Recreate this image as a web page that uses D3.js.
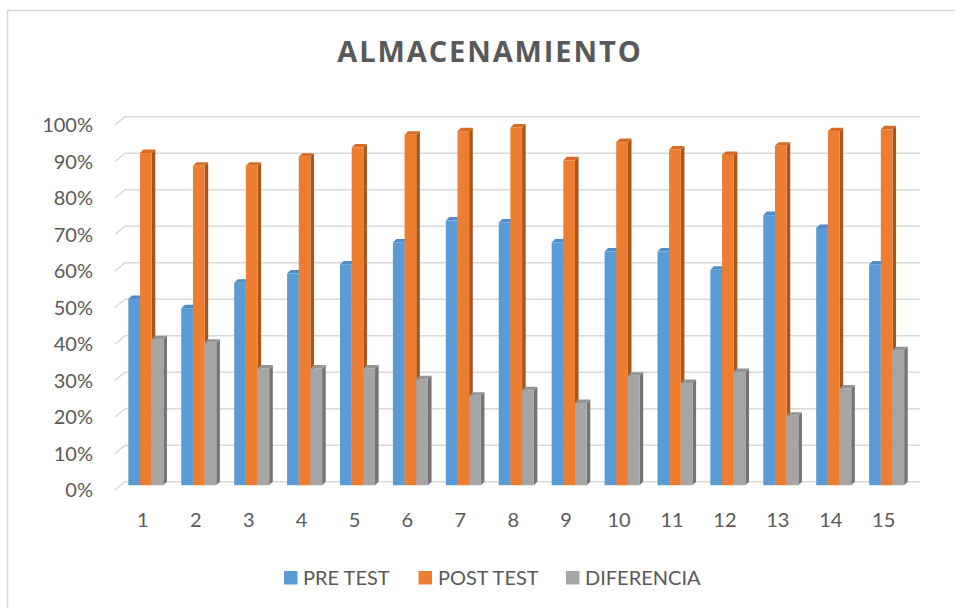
<!DOCTYPE html>
<html>
<head>
<meta charset="utf-8">
<script src="https://cdn.jsdelivr.net/npm/d3@7"></script>
<style>
  html, body { margin: 0; padding: 0; background: #fff; }
  svg { display: block; }
  text { font-family: Lato, "Noto Sans", sans-serif; fill: #595959; }
</style>
</head>
<body>
<svg id="chart" width="955" height="608"></svg>
<script>
const categories = ["1","2","3","4","5","6","7","8","9","10","11","12","13","14","15"];
const seriesNames = ["PRE TEST", "POST TEST", "DIFERENCIA"];
const preTest    = [0.51, 0.485, 0.555, 0.58, 0.605, 0.665, 0.725, 0.72, 0.665, 0.64, 0.64, 0.59, 0.74, 0.705, 0.605];
const postTest   = [0.91, 0.875, 0.875, 0.90, 0.925, 0.96, 0.97, 0.98, 0.89, 0.94, 0.92, 0.905, 0.93, 0.97, 0.975];
const diferencia = [0.40, 0.39, 0.32, 0.32, 0.32, 0.29, 0.245, 0.26, 0.225, 0.30, 0.28, 0.31, 0.19, 0.265, 0.37];
const yTicks = [0, 0.1, 0.2, 0.3, 0.4, 0.5, 0.6, 0.7, 0.8, 0.9, 1.0];
const title = "ALMACENAMIENTO";

const series = [preTest, postTest, diferencia];
const colors = [
  {front: "#5B9BD5", top: "#4F8BC4", side: "#41719C"},
  {front: "#ED7D31", top: "#D66C24", side: "#A9561C"},
  {front: "#A5A5A5", top: "#959595", side: "#747474"}
];

const svg = d3.select("#chart");

// chart border
svg.append("rect").attr("x", 7.5).attr("y", 10.5).attr("width", 960).attr("height", 610)
  .attr("fill", "none").attr("stroke", "#d9d9d9").attr("stroke-width", 1.5);

// 3D offsets
const depthX = 10, depthY = 8.3;     // front plane -> back wall
const barDX = 3.6, barDY = 3.5;      // bar depth

const yBack = d3.scaleLinear().domain([0, 1]).range([481.7, 116.7]);
const x0 = d3.scaleBand().domain(categories).range([119.4, 913.1]).paddingInner(0.338).paddingOuter(0.169);
const x1 = d3.scaleBand().domain(d3.range(3)).range([0, x0.bandwidth()]);
const xLabel = d3.scaleBand().domain(categories).range([116.4, 910.1]);

// gridlines (back wall + floor diagonal)
const grid = svg.append("g");
yTicks.forEach(t => {
  const yb = yBack(t);
  grid.append("path")
    .attr("d", `M${115},${yb + depthY} L${115 + depthX},${yb} L${920},${yb}`)
    .attr("fill", "none").attr("stroke", "#d9d9d9").attr("stroke-width", 1.6);
});

// y labels
svg.append("g").selectAll("text").data(yTicks).join("text")
  .attr("x", 93).attr("y", d => yBack(d) + depthY)
  .attr("dy", "0.36em").attr("text-anchor", "end")
  .style("font-size", "20px")
  .text(d => d3.format(".0%")(d));

// x labels
svg.append("g").selectAll("text").data(categories).join("text")
  .attr("x", d => xLabel(d) + xLabel.bandwidth() / 2)
  .attr("y", 527).attr("text-anchor", "middle")
  .style("font-size", "20px")
  .text(d => d);

// bars
const baseFront = yBack(0) + barDY;
const bars = svg.append("g");
categories.forEach((c, i) => {
  series.forEach((s, k) => {
    const v = s[i];
    const xa = x0(c) + x1(k);
    const xb = xa + x1.bandwidth();
    const yt = yBack(v) + barDY;
    const col = colors[k];
    const g = bars.append("g");
    // side face
    g.append("path")
      .attr("d", `M${xb},${yt} L${xb + barDX},${yt - barDY} L${xb + barDX},${baseFront - barDY} L${xb},${baseFront} Z`)
      .attr("fill", col.side);
    // top face
    g.append("path")
      .attr("d", `M${xa},${yt} L${xa + barDX},${yt - barDY} L${xb + barDX},${yt - barDY} L${xb},${yt} Z`)
      .attr("fill", col.top);
    // front face
    g.append("rect")
      .attr("x", xa).attr("y", yt).attr("width", x1.bandwidth()).attr("height", baseFront - yt)
      .attr("fill", col.front);
  });
});

// title
svg.append("text")
  .attr("x", 490).attr("y", 62).attr("text-anchor", "middle")
  .style("font-size", "29px").style("font-weight", "bold")
  .style("letter-spacing", "1.9px")
  .style("font-family", "'Open Sans', Lato, sans-serif")
  .text(title);

// legend
const legendItems = [
  {name: seriesNames[0], sx: 284, tx: 303},
  {name: seriesNames[1], sx: 418.5, tx: 438},
  {name: seriesNames[2], sx: 566, tx: 585}
];
const lg = svg.append("g");
legendItems.forEach((d, k) => {
  lg.append("rect").attr("x", d.sx).attr("y", 571).attr("width", 13.5).attr("height", 13.5)
    .attr("fill", colors[k].front);
  lg.append("text").attr("x", d.tx).attr("y", 585)
    .style("font-size", "20px").text(d.name);
});
</script>
</body>
</html>
